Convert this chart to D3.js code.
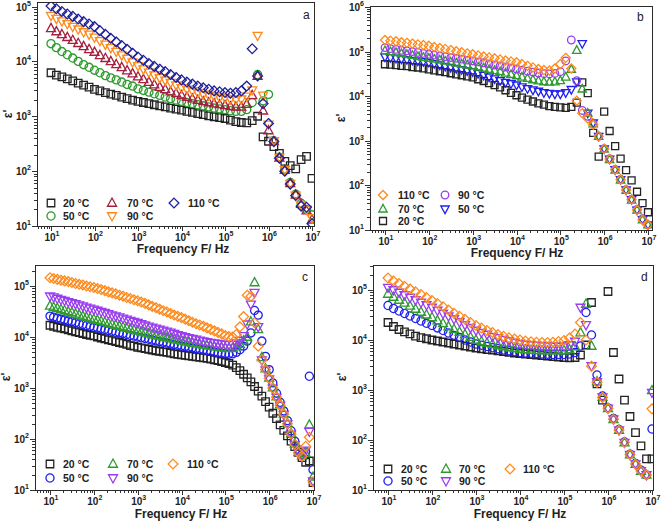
<!DOCTYPE html>
<html><head><meta charset="utf-8">
<script src="https://cdn.jsdelivr.net/npm/d3@7"></script>
<style>body{margin:0;background:#fff}svg{display:block}</style>
</head><body>
<svg id="chart" width="661" height="522"></svg>
<script>
// ---------- data ----------
const tempLabels = ["20 °C", "50 °C", "70 °C", "90 °C", "110 °C"];
const decadeExps = [0, 1, 2, 3, 4, 5, 6, 7];

// frequency grids (Hz)
const freqA = [10,13.3,17.8,23.7,31.6,42.2,56.2,75, 100,133,178,237,316,422,562,750,
  1e3,1330,1780,2370,3160,4220,5620,7500, 1e4,13300,17800,23700,31600,42200,56200,75000,
  1e5,133000,178000,237000,316000,422000,562000,750000, 1e6,1.33e6,1.78e6,2.37e6,3.16e6,4.22e6,5.62e6,7.5e6,1e7];
const freqC = [10,12.1,14.7,17.8,21.5,26.1,31.6,38.3,46.4,56.2,68.1,82.5,
  100,121,147,178,215,261,316,383,464,562,681,825,
  1e3,1210,1470,1780,2150,2610,3160,3830,4640,5620,6810,8250,
  1e4,12100,14700,17800,21500,26100,31600,38300,46400,56200,68100,82500,
  1e5,121000,147000,178000,215000,261000,316000,383000,464000,562000,681000,825000,
  1e6,1.21e6,1.47e6,1.78e6,2.15e6,2.61e6,3.16e6,3.83e6,4.64e6,5.62e6,6.81e6,8.25e6,1e7];

// panel a
const a20 = [6200,5600,5200,4800,4400,4000,3700,3400, 3100,2900,2700,2540,2400,2240,2100,1970,
  1860,1780,1700,1620,1550,1480,1410,1350, 1290,1230,1175,1120,1070,1020,980,945,
  910,850,795,770,760,830,1000,420, 350,280,210,150,126,110,162,186,74];
const a50 = [21000,17800,15100,13200,11500,10000,8700,7800, 6900,6200,5500,5000,4600,4200,3800,3550,
  3160,2950,2750,2570,2400,2240,2090,1970, 1860,1780,1700,1620,1550,1480,1410,1360,
  1320,1260,1230,1230,1320,1780,5750,1900, 2500,360,180,108,62,38,26,20,16];
const a70 = [40000,35000,31000,27500,24300,21400,18800,16600, 14800,12900,11400,10000,8800,7800,6800,6000,
  5250,4700,4200,3760,3400,3100,2800,2600, 2400,2240,2090,1970,1860,1780,1700,1640,
  1580,1510,1480,1480,1660,2400,5400,1260, 550,350,175,104,60,37,25,19,13];
const a90 = [68000,60000,54000,48400,43000,38500,34300,31000, 27500,23700,20400,17600,15100,13000,11200,9700,
  8300,7200,6300,5600,5000,4500,4100,3700, 3300,3100,2900,2700,2500,2400,2300,2200,
  2150,2050,2000,2050,2300,3000,29500,2400, 710,355,178,105,59,36,24,20,14];
const a110 = [102000,91000,81000,73000,66000,59000,53000,48000, 43000,36300,31000,26300,22600,19500,16600,14100,
  12000,10500,9100,8100,7200,6500,5750,5100, 4600,4200,3850,3550,3300,3100,2900,2800,
  2700,2630,2700,2900,3550,17000,5400,1700, 740,345,172,100,58,36,23,22,11];

// panel b
const b20 = [52000,51000,50000,48000,47000,45000,44000,42000, 40000,38000,36300,34700,32700,31000,29500,27900,
  26300,24000,21900,19700,17800,15700,13600,11900, 10500,9300,8400,7600,6900,6500,6000,5750,
  5600,5500,5750,7200,20400,11700,1500,440, 4500,1660,760,400,220,130,72,40,25];
const b50 = [75900,73300,70800,68400,66100,63800,61700,59600, 57500,53700,50100,46800,44200,41700,39400,37200,
  35500,32400,29500,26900,24500,22400,20400,19100, 17800,16200,14800,13800,12900,12000,11500,11200,
  11200,12000,14100,20900,151000,4170,2510,1260, 660,389,224,135,79,48,28,17,13];
const b70 = [105000,100000,95500,90200,86100,82200,77600,74100, 70800,67600,64600,61000,58200,55600,52500,50100,
  47900,45200,42700,39800,37600,35500,33100,30900, 28800,26900,25100,23400,22100,21100,20700,20900,
  22400,26900,39800,107000,14500,4170,2400,1260, 650,380,220,132,78,47,28,17,13];
const b90 = [123000,117000,112000,107000,104000,100000,95500,91200, 87100,83200,79400,76700,73300,70800,67600,64600,
  61700,58900,56200,53100,50100,47900,45200,43200, 40700,38500,36300,34700,33100,32000,31600,32400,
  35500,61700,182000,22400,4790,3550,2400,1260, 670,395,228,137,80,49,29,18,13];
const b110 = [182000,176000,170000,162000,157000,151000,145000,140000, 135000,127000,120000,115000,108000,102000,96600,91200,
  87100,82200,77600,74100,70800,66800,63100,60300, 57500,52500,47900,44200,40700,38500,37600,41700,
  52500,72400,41700,7940,4170,3160,2290,1260, 660,389,224,135,79,48,28,17,13];

// panel c
const c20 = [17000,16200,15500,15000,14500,13800,13200,12600,12200,11700,11200,10800,
  10500,10000,9550,9200,8800,8500,8100,7800,7500,7200,6800,6600,
  6300,6100,5900,5750,5560,5370,5250,5130,5000,4840,4680,4570,
  4470,4370,4270,4170,4070,3980,3890,3800,3670,3550,3430,3310,
  3160,3020,2820,2510,2190,1860,1580,1320,1070,870,690,540,
  420,320,250,190,148,115,91,71,55,43,35,37,14];
const c50 = [25700,24500,23400,22400,21600,20700,20000,19100,18200,17600,16800,16200,
  15500,15000,14500,14000,13500,12900,12400,12000,11600,11200,10700,10400,
  10000,9660,9330,9020,8710,8410,8130,7850,7590,7330,7080,6840,
  6610,6460,6240,6100,5890,5750,5620,5430,5250,5070,4900,4790,
  4680,4620,4680,5010,5620,6610,8320,12000,33100,26900,8320,4170,
  2290,1260,790,525,355,229,145,91,62,50,56,1700,25];
const c70 = [40700,38500,36700,34700,33100,31600,30200,28500,27200,25700,24500,23400,
  22400,21400,20400,19500,18600,17800,17200,16400,15700,15000,14300,13800,
  13200,12600,12200,11600,11200,10800,10500,10000,9660,9330,9020,8710,
  8410,8130,7850,7590,7410,7160,7000,6840,6610,6460,6310,6170,
  6030,5960,6030,6460,7240,8510,10000,20000,117000,14100,4000,2400,
  1580,1020,680,470,316,204,129,81,55,47,52,190,18];
const c90 = [63000,60300,56900,54300,51900,49000,46800,44700,42200,40300,38000,36300,
  34700,33100,31600,29900,28500,26900,25700,24500,23200,22100,20900,20000,
  19100,18000,17000,16200,15500,14800,14100,13500,12900,12300,11600,11000,
  10500,10000,9660,9330,9020,8610,8320,8040,7760,7590,7410,7240,
  7080,7000,7080,7590,8510,10500,17800,43700,74000,15800,3500,2250,
  1500,980,650,450,300,195,123,77,53,45,60,140,15];
const c110 = [145000,140000,135000,130000,126000,122000,117000,112000,108000,105000,100000,96600,
  93300,89100,85100,81300,76700,73300,70000,66100,63100,59600,56900,53700,
  51300,48400,45700,42700,39800,37600,35100,32700,30900,28800,26900,25400,
  24000,22400,20900,19500,18200,17200,16200,15100,14100,13200,12300,11500,
  10700,10200,10000,11200,15800,25100,66000,63000,19000,6600,3600,2300,
  1550,1000,660,460,310,200,126,79,54,46,72,108,14.5];

// panel d
const d20 = [22400,18600,16200,14500,13200,12000,11200,10600, 10000,9550,9120,8710,8320,7940,7590,7240,
  6920,6680,6460,6310,6100,5890,5690,5500, 5370,5250,5130,5010,4900,4790,4680,4570,
  4470,4420,4470,5010,7940,56200,1320,630, 93300,5620,1660,630,295,141,76,42,42];
const d50 = [49000,42700,38000,33900,30200,26900,24000,21600, 19500,17400,15500,13800,12400,11200,10000,9120,
  8320,7850,7410,7000,6680,6310,6100,5820, 5620,5500,5430,5370,5250,5190,5130,5130,
  5130,5250,5620,7590,35500,12600,2000,760, 440,270,162,91,52,34,25,20,166];
const d70 = [83200,72400,63100,55000,47900,41700,36300,32000, 28200,24500,21400,18600,16400,14500,12900,11400,
  10000,9330,8710,8220,7760,7410,7080,6840, 6610,6460,6310,6240,6170,6100,6100,6100,
  6170,6460,7410,14100,52500,7590,1480,720, 430,260,158,89,51,33,24,20,980];
const d90 = [112000,100000,89100,79400,70800,63100,56200,50100, 44700,38900,33900,29900,26300,22900,20000,17600,
  15500,14100,12900,11700,11000,10200,9550,8910, 8410,8130,7940,7760,7590,7500,7410,7410,
  7500,7940,9330,44700,20000,3020,1450,720, 430,260,158,89,51,33,24,20,890];
const d110 = [174000,151000,135000,119000,105000,92300,81300,70800, 61700,53700,46200,39800,34300,29900,26000,22400,
  19500,17400,15500,14100,12900,11900,11100,10500, 10000,9550,9230,9020,8910,8910,9020,9330,
  9770,11000,13200,22400,10000,3000,1410,710, 430,260,158,89,51,33,24,20,420];

// ---------- styling / layout ----------
const BLACK = "#232323", GREEN = "#2e9b2e", MAROON = "#a3203f", ORANGE = "#ff8a1c",
      NAVY = "#1f1f99", BLUE = "#1f1ff0", PURPLE = "#9a3cf0";
const FONT = "'Liberation Sans', Arial, Helvetica, sans-serif";

const panels = [
  { letter: "a", freq: freqA, values: [a20, a50, a70, a90, a110],
    shapes: ["square", "circle", "up", "down", "diamond"],
    colors: [BLACK, GREEN, MAROON, ORANGE, NAVY],
    frame: { l: 37, r: 314, t: 2, b: 226 }, xr: [51, 312], ymax: 1e5, yr: [226, 6.5], ms: 7.5,
    letterPos: [303, 19], yTitle: [12, 114], xTitle: [183, 253],
    legend: [[51, 203, 63], [51, 216, 63], [112, 203, 127], [112, 216, 127], [174, 203, 188]] },
  { letter: "b", freq: freqA, values: [b20, b50, b70, b90, b110],
    shapes: ["square", "down", "up", "circle", "diamond"],
    colors: [BLACK, BLUE, GREEN, PURPLE, ORANGE],
    frame: { l: 370, r: 652, t: 6, b: 230 }, xr: [385, 648], ymax: 1e6, yr: [230, 7], ms: 7,
    letterPos: [637, 21], yTitle: [345, 118], xTitle: [517, 257],
    legend: [[383, 221, 398], [445, 209, 458], [383, 209, 398], [445, 195, 458], [383, 195, 398]] },
  { letter: "c", freq: freqC, values: [c20, c50, c70, c90, c110],
    shapes: ["square", "circle", "up", "down", "diamond"],
    colors: [BLACK, BLUE, GREEN, PURPLE, ORANGE],
    frame: { l: 35, r: 314, t: 265, b: 490 }, xr: [50, 313], ymax: 1e5, yr: [490, 286], ms: 7.5,
    letterPos: [302, 281], yTitle: [10, 377], xTitle: [181, 518],
    legend: [[50, 464, 63], [50, 478, 63], [113, 464, 127], [113, 478, 127], [173, 464, 187]] },
  { letter: "d", freq: freqA, values: [d20, d50, d70, d90, d110],
    shapes: ["square", "circle", "up", "down", "diamond"],
    colors: [BLACK, BLUE, GREEN, PURPLE, ORANGE],
    frame: { l: 373, r: 653, t: 265, b: 490 }, xr: [388, 652], ymax: 1e5, yr: [490, 290], ms: 7.5,
    letterPos: [641, 281], yTitle: [346, 377], xTitle: [520, 518],
    legend: [[388, 469, 401], [388, 481, 401], [446, 469, 459], [446, 481, 459], [510, 469, 523]] }
];

function symPath(shape, s) {
  const h = s / 2;
  if (shape === "square") return `M${-h},${-h}H${h}V${h}H${-h}Z`;
  if (shape === "circle") { const r = h * 1.08; return `M${r},0A${r},${r} 0 1,1 ${-r},0A${r},${r} 0 1,1 ${r},0Z`; }
  if (shape === "up") { const t = h * 1.2; return `M0,${-t * 1.1}L${t},${t * 0.72}L${-t},${t * 0.72}Z`; }
  if (shape === "down") { const t = h * 1.2; return `M0,${t * 1.1}L${t},${-t * 0.72}L${-t},${-t * 0.72}Z`; }
  const k = h * 1.3; return `M0,${-k}L${k},0L0,${k}L${-k},0Z`;
}

const svg = d3.select("#chart").style("font-family", FONT);

panels.forEach((p, pi) => {
  const f = p.frame;
  const x = d3.scaleLog().domain([10, 1e7]).range(p.xr);
  const y = d3.scaleLog().domain([10, p.ymax]).range(p.yr);
  const g = svg.append("g");

  const cid = "clip" + pi;
  svg.append("clipPath").attr("id", cid).append("rect")
    .attr("x", f.l).attr("y", f.t).attr("width", f.r - f.l).attr("height", f.b - f.t);

  const dg = g.append("g").attr("clip-path", `url(#${cid})`);
  p.values.forEach((vals, si) => {
    const pts = vals.map((v, j) => [p.freq[j], v]);
    dg.append("g").selectAll("path").data(pts).join("path")
      .attr("d", symPath(p.shapes[si], p.ms))
      .attr("transform", d => `translate(${x(d[0]).toFixed(2)},${y(d[1]).toFixed(2)})`)
      .attr("fill", "none").attr("stroke", p.colors[si]).attr("stroke-width", 1.3);
  });

  // ticks
  const inX = v => { const px = x(v); return px >= f.l - 0.5 && px <= f.r + 0.5; };
  const inY = v => { const py = y(v); return py <= f.b + 0.5 && py >= f.t - 0.5; };
  const minors = [], majors = [];
  decadeExps.forEach(e => { majors.push(Math.pow(10, e)); for (let m = 2; m <= 9; m++) minors.push(m * Math.pow(10, e)); });
  const xMaj = majors.filter(inX), xMin = minors.filter(inX);
  const yMaj = majors.filter(inY), yMin = minors.filter(inY);

  const axStyle = sel => { sel.select(".domain").remove(); sel.selectAll("line").attr("stroke", "#333").attr("shape-rendering", "crispEdges"); sel.selectAll("text").remove(); };
  g.append("g").attr("transform", `translate(0,${f.b})`).call(d3.axisBottom(x).tickValues(xMin).tickSize(3).tickFormat("")).call(axStyle);
  g.append("g").attr("transform", `translate(0,${f.b})`).call(d3.axisBottom(x).tickValues(xMaj).tickSize(5).tickFormat("")).call(axStyle);
  g.append("g").attr("transform", `translate(${f.l},0)`).call(d3.axisLeft(y).tickValues(yMin).tickSize(3).tickFormat("")).call(axStyle);
  g.append("g").attr("transform", `translate(${f.l},0)`).call(d3.axisLeft(y).tickValues(yMaj).tickSize(5).tickFormat("")).call(axStyle);

  g.append("rect").attr("x", f.l + 0.5).attr("y", f.t + 0.5).attr("width", f.r - f.l).attr("height", f.b - f.t)
    .attr("fill", "none").attr("stroke", "#2a2a2a").attr("stroke-width", 1).attr("shape-rendering", "crispEdges");

  // tick labels
  const powLabel = (sel, v) => {
    const e = Math.round(Math.log10(v));
    sel.append("tspan").text("10");
    sel.append("tspan").attr("dy", -5).attr("font-size", 7).text(e);
  };
  xMaj.filter(v => v >= 10).forEach(v => {
    g.append("text").attr("x", x(v) + 1).attr("y", f.b + 15).attr("text-anchor", "middle")
      .attr("font-size", 10).attr("font-weight", "bold").attr("fill", "#222").call(powLabel, v);
  });
  yMaj.forEach(v => {
    g.append("text").attr("x", f.l - 6).attr("y", y(v) + 4).attr("text-anchor", "end")
      .attr("font-size", 10).attr("font-weight", "bold").attr("fill", "#222").call(powLabel, v);
  });

  // titles
  g.append("text").attr("x", p.xTitle[0]).attr("y", p.xTitle[1]).attr("text-anchor", "middle")
    .attr("font-size", 12).attr("font-weight", "bold").attr("fill", "#222").text("Frequency F/ Hz");
  g.append("text").attr("transform", `translate(${p.yTitle[0]},${p.yTitle[1]}) rotate(-90)`).attr("text-anchor", "middle")
    .attr("font-size", 12).attr("font-weight", "bold").attr("fill", "#222").text("ε'");
  g.append("text").attr("x", p.letterPos[0]).attr("y", p.letterPos[1])
    .attr("font-size", 12).attr("fill", "#222").text(p.letter);

  // legend
  p.legend.forEach((pos, si) => {
    g.append("path").attr("d", symPath(p.shapes[si], p.ms))
      .attr("transform", `translate(${pos[0]},${pos[1]})`)
      .attr("fill", "none").attr("stroke", p.colors[si]).attr("stroke-width", 1.3);
    g.append("text").attr("x", pos[2]).attr("y", pos[1] + 4)
      .attr("font-size", 10.5).attr("font-weight", "bold").attr("fill", "#222").text(tempLabels[si]);
  });
});
</script>
</body></html>
